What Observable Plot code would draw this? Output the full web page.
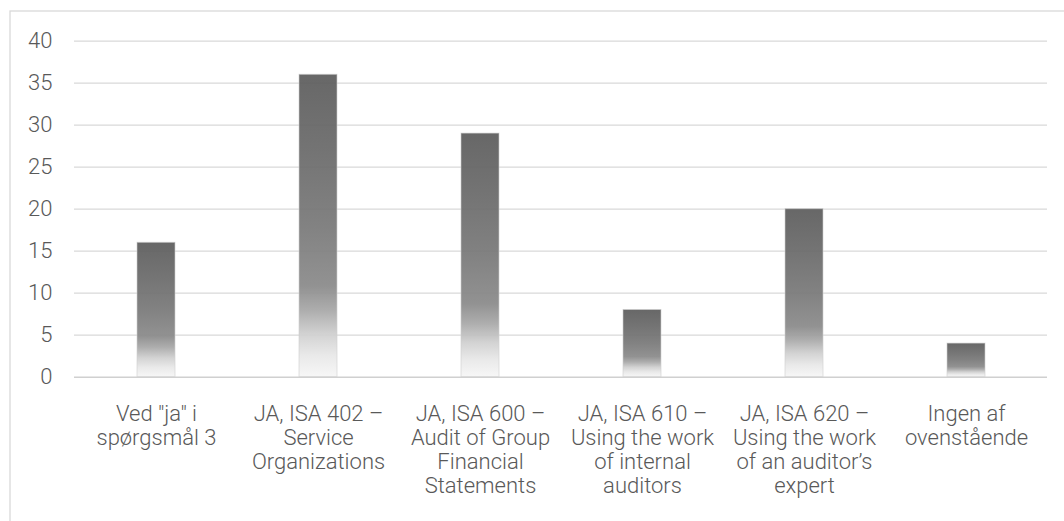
<!DOCTYPE html>
<html>
<head>
<meta charset="utf-8">
<script src="https://cdn.jsdelivr.net/npm/d3@7"></script>
<script src="https://cdn.jsdelivr.net/npm/@observablehq/plot@0.6"></script>
<style>
  html, body { margin: 0; padding: 0; background: #fff; }
  #chart svg { display: block; }
</style>
</head>
<body>
<div id="chart"></div>
<script>
// Survey answers: number of respondents per option
const categories = [
  "Ved \"ja\" i\nspørgsmål 3",
  "JA, ISA 402 –\nService\nOrganizations",
  "JA, ISA 600 –\nAudit of Group\nFinancial\nStatements",
  "JA, ISA 610 –\nUsing the work\nof internal\nauditors",
  "JA, ISA 620 –\nUsing the work\nof an auditor’s\nexpert",
  "Ingen af\novenstående"
];
const counts = [16, 36, 29, 8, 20, 4];
const yTicks = [0, 5, 10, 15, 20, 25, 30, 35, 40];

const data = categories.map((c, i) => ({category: c, count: counts[i]}));

const font = "Roboto, 'Liberation Sans', sans-serif";
const textColor = "#595959";

const plot = Plot.plot({
  width: 1064,
  height: 521,
  marginLeft: 74,
  marginRight: 17,
  marginTop: 40.7,
  marginBottom: 144.3,
  style: {fontFamily: font, fontSize: "22px", fontWeight: 300, color: textColor, background: "#fff"},
  x: {domain: categories, paddingInner: 0.766, paddingOuter: 0.383, label: null},
  y: {domain: [0, 40], label: null},
  marks: [
    Plot.ruleY(yTicks.filter(d => d > 0), {stroke: "#d9d9d9", strokeWidth: 1.3}),
    Plot.barY(data, {
      x: "category",
      y: "count",
      fill: "url(#barGradient)",
      fillOpacity: 0.94,
      stroke: "#cfcfcf",
      strokeOpacity: 0.6,
      strokeWidth: 1,
      inset: 0
    }),
    Plot.ruleY([0], {stroke: "#d0d0d0", strokeWidth: 1.6}),
    Plot.axisY({
      ticks: yTicks,
      tickSize: 0,
      tickPadding: 22,
      fill: textColor,
      fontSize: 22,
      fontWeight: 300,
      label: null
    }),
    Plot.axisX({
      tickSize: 0,
      tickPadding: 27,
      fill: textColor,
      fontSize: 22,
      fontWeight: 300,
      lineHeight: 1.09,
      label: null
    })
  ]
});

// Vertical gray-to-white gradient shared by every bar
const svg = d3.select(plot);
const grad = svg.append("defs").append("linearGradient")
  .attr("id", "barGradient")
  .attr("x1", 0).attr("y1", 0).attr("x2", 0).attr("y2", 1);
[
  [0.00, "#5e5e5e"],
  [0.25, "#6b6b6b"],
  [0.50, "#7a7a7a"],
  [0.70, "#8b8b8b"],
  [0.78, "#a8a8a8"],
  [0.86, "#d0d0d0"],
  [0.93, "#e8e8e8"],
  [1.00, "#f6f6f6"]
].forEach(([o, c]) => grad.append("stop").attr("offset", o).attr("stop-color", c));

// Chart area border
svg.insert("rect", ":first-child")
  .attr("x", 10).attr("y", 11)
  .attr("width", 1070).attr("height", 530)
  .attr("fill", "none")
  .attr("stroke", "#d9d9d9")
  .attr("stroke-width", 1.3);

document.getElementById("chart").appendChild(plot);
</script>
</body>
</html>
